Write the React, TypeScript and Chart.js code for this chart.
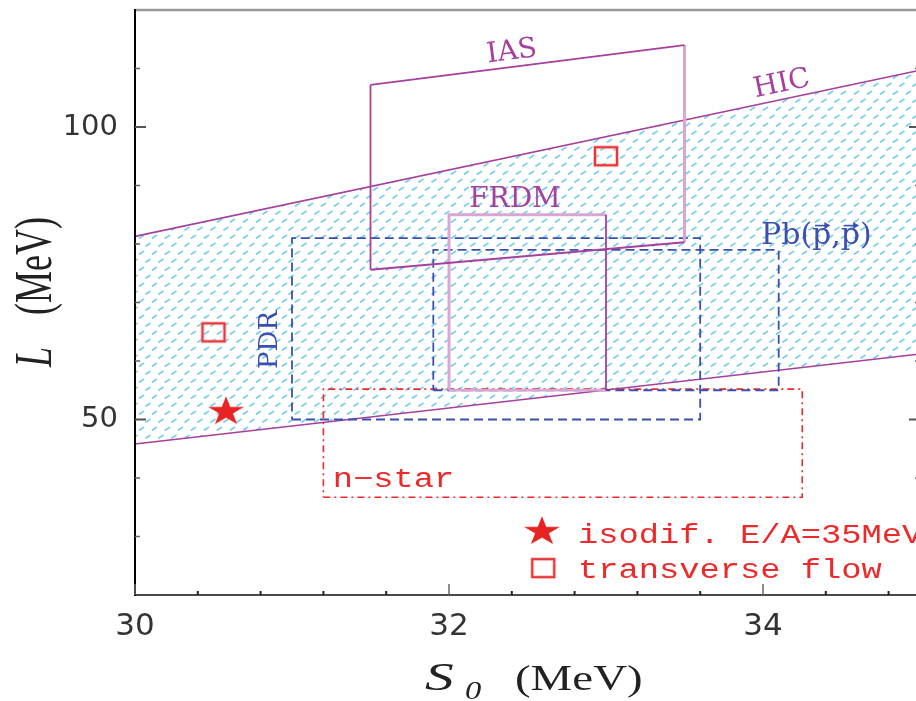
import React, { useEffect, useRef } from "react";
import { Chart, registerables } from "chart.js";

Chart.register(...registerables);

// ---------- axes ----------
const sRange = [30, 35];
const lRange = [20, 120];
const sMajorTicks = [30, 32, 34];
const sMinorTicks = [30.4, 30.8, 31.2, 31.6, 32.4, 32.8, 33.2, 33.6, 34.4, 34.8];
const lMajorTicks = [50, 100];
const lMinorTicks = [30, 40, 60, 70, 80, 90, 110];

// ---------- HIC band ----------
const hicS = [30, 35];
const hicUpperL = [81.3, 109.7];
const hicLowerL = [45.8, 61.2];

// ---------- IAS quadrilateral: top-left, top-right, bottom-right, bottom-left ----------
const iasS = [31.5, 33.5, 33.5, 31.5];
const iasL = [107.2, 114.0, 80.3, 75.6];

// ---------- rectangles [min, max] ----------
const frdmS = [32.0, 33.0];
const frdmL = [55, 85];
const pdrS = [31.0, 33.6];
const pdrL = [50, 81];
const pbS = [31.9, 34.1];
const pbL = [55, 79];
const nstarS = [31.2, 34.25];
const nstarL = [36.7, 55.2];

// ---------- points ----------
const isodifS = [30.58];
const isodifL = [51.6];
const flowS = [30.5, 33.0];
const flowL = [64.9, 95.0];

// ---------- texts ----------
const legendTexts = ["isodif. E/A=35MeV", "transverse flow"];

const PURPLE = "#a63f9e";
const PINK = "#d9a6d4";
const BLUE = "#3a4fb0";
const RED = "#ec2a2a";

const regionLabels = [
  { text: "IAS", s: 32.4, l: 112.8, angle: -7.2, color: PURPLE, size: 28, arrows: false },
  { text: "HIC", s: 34.12, l: 107.3, angle: -12, color: PURPLE, size: 28, arrows: false },
  { text: "FRDM", s: 32.42, l: 87.6, angle: 0, color: PURPLE, size: 28, arrows: false },
  { text: "Pb(p,p)", s: 34.34, l: 81.3, angle: 0, color: BLUE, size: 30, arrows: true },
  { text: "PDR", s: 30.86, l: 63.6, angle: -90, color: BLUE, size: 26, arrows: false },
];

const nstarLabel = { text: "n\u2212star", s: 31.26, l: 38.46 };
const legendPos = [
  { ms: 32.592, ml: 31.1, ts: 32.822, tl: 28.9 },
  { ms: 32.6, ml: 24.6, ts: 32.822, tl: 22.9 },
];

const pts = (xs: number[], ys: number[]) => xs.map((x, i) => ({ x, y: ys[i] }));
const rectPts = (xs: number[], ys: number[]) => [
  { x: xs[0], y: ys[0] },
  { x: xs[1], y: ys[0] },
  { x: xs[1], y: ys[1] },
  { x: xs[0], y: ys[1] },
  { x: xs[0], y: ys[0] },
];

function makePattern(): CanvasPattern | string {
  const t = document.createElement("canvas");
  t.width = 13;
  t.height = 16;
  const g = t.getContext("2d")!;
  g.strokeStyle = "rgba(80,195,228,0.8)";
  g.lineWidth = 1.7;
  g.lineCap = "round";
  const dash = (x0: number, y0: number) => {
    g.beginPath();
    g.moveTo(x0, y0);
    g.lineTo(x0 + 4, y0 - 2.6);
    g.stroke();
  };
  dash(3, 6);
  dash(9.5, 14);
  dash(-3.5, 14);
  const p = g.createPattern(t, "repeat");
  return p || "rgba(70,192,226,0.3)";
}

function makeStar(): HTMLCanvasElement {
  const c = document.createElement("canvas");
  c.width = 40;
  c.height = 32;
  const g = c.getContext("2d")!;
  const R = 15.5;
  const r = R * 0.382;
  g.translate(20, 16 + 0.0955 * R);
  g.scale(1.22, 1);
  g.beginPath();
  for (let i = 0; i < 10; i++) {
    const rad = i % 2 === 0 ? R : r;
    const a = -Math.PI / 2 + (i * Math.PI) / 5;
    const x = rad * Math.cos(a);
    const y = rad * Math.sin(a);
    if (i === 0) g.moveTo(x, y);
    else g.lineTo(x, y);
  }
  g.closePath();
  g.fillStyle = "#e82323";
  g.fill();
  return c;
}

function makeSquare(): HTMLCanvasElement {
  const c = document.createElement("canvas");
  c.width = 28;
  c.height = 24;
  const g = c.getContext("2d")!;
  g.strokeStyle = "rgba(240,140,140,0.6)";
  g.lineWidth = 3.6;
  g.strokeRect(3, 3, 22, 18);
  g.strokeStyle = "#e8363a";
  g.lineWidth = 2;
  g.strokeRect(3, 3, 22, 18);
  return c;
}

function drawText(
  ctx: CanvasRenderingContext2D,
  text: string,
  x: number,
  y: number,
  font: string,
  color: string,
  align: CanvasTextAlign,
  baseline: CanvasTextBaseline,
  angleDeg = 0,
  sx = 1,
  sy = 1
) {
  ctx.save();
  ctx.translate(x, y);
  ctx.rotate((angleDeg * Math.PI) / 180);
  ctx.scale(sx, sy);
  ctx.font = font;
  ctx.fillStyle = color;
  ctx.textAlign = align;
  ctx.textBaseline = baseline;
  ctx.fillText(text, 0, 0);
  ctx.restore();
}

export default function App() {
  const ref = useRef<HTMLCanvasElement | null>(null);

  useEffect(() => {
    document.body.style.margin = "0";
    document.body.style.overflow = "hidden";
    const canvas = ref.current;
    if (!canvas) return;

    const pattern = makePattern();
    const star = makeStar();
    const square = makeSquare();

    const seg = (data: any[], color: string, width: number, dash: number[] = [], order = 5) => ({
      data,
      borderColor: color,
      borderWidth: width,
      borderDash: dash,
      pointRadius: 0,
      pointHoverRadius: 0,
      fill: false,
      tension: 0,
      order,
      borderCapStyle: "butt",
      borderJoinStyle: "miter",
    });

    const datasets: any[] = [
      {
        ...seg(pts(hicS, hicUpperL), PURPLE, 1.6, [], 20),
        fill: "+1",
        backgroundColor: pattern,
      },
      seg(pts(hicS, hicLowerL), PURPLE, 1.6, [], 19),
      seg(rectPts(pdrS, pdrL), BLUE, 1.8, [9, 5], 8),
      seg(rectPts(pbS, pbL), BLUE, 1.8, [9, 5], 8),
      seg(rectPts(nstarS, nstarL), RED, 1.6, [7, 4, 2, 4], 8),
      seg(pts([iasS[2], iasS[1]], [iasL[2], iasL[1]]), PINK, 3, [], 7),
      seg(pts([iasS[3], iasS[0]], [iasL[3], iasL[0]]), PURPLE, 1.8, [], 6),
      seg(pts([iasS[0], iasS[1]], [iasL[0], iasL[1]]), PURPLE, 1.8, [], 6),
      seg(pts([iasS[3], iasS[2]], [iasL[3], iasL[2]]), PURPLE, 1.8, [], 6),
      seg(pts([frdmS[0], frdmS[0], frdmS[1]], [frdmL[0], frdmL[1], frdmL[1]]), PINK, 3, [], 7),
      seg(pts([frdmS[0], frdmS[1]], [frdmL[0], frdmL[0]]), PINK, 2.4, [], 7),
      seg(pts([frdmS[1], frdmS[1]], [frdmL[0], frdmL[1]]), PURPLE, 1.8, [], 6),
      {
        data: pts(isodifS, isodifL),
        showLine: false,
        pointStyle: star,
        pointRadius: 1,
        pointHoverRadius: 1,
        pointBorderWidth: 0,
        borderWidth: 0,
        order: 0,
      },
      {
        data: pts(flowS, flowL),
        showLine: false,
        pointStyle: square,
        pointRadius: 1,
        pointHoverRadius: 1,
        pointBorderWidth: 0,
        borderWidth: 0,
        order: 0,
      },
    ];

    const decor = {
      id: "decor",
      afterDatasetsDraw(chart: any) {
        const { ctx, chartArea: a, scales } = chart;
        const xs = scales.x;
        const ys = scales.y;
        ctx.save();
        ctx.lineCap = "butt";
        ctx.strokeStyle = "#9a9a9a";
        ctx.lineWidth = 2.5;
        ctx.beginPath();
        ctx.moveTo(a.left, a.top);
        ctx.lineTo(a.right, a.top);
        ctx.stroke();
        ctx.strokeStyle = "#4a4a4a";
        ctx.lineWidth = 2;
        ctx.beginPath();
        ctx.moveTo(a.left, a.bottom);
        ctx.lineTo(a.right, a.bottom);
        ctx.stroke();
        ctx.strokeStyle = "#000";
        ctx.beginPath();
        ctx.moveTo(a.left, a.top - 1);
        ctx.lineTo(a.left, a.bottom + 1);
        ctx.stroke();
        ctx.beginPath();
        ctx.moveTo(a.right, a.top);
        ctx.lineTo(a.right, a.bottom);
        ctx.stroke();
        const tickY = (v: number, len: number, color: string, w: number) => {
          const p = ys.getPixelForValue(v);
          ctx.strokeStyle = color;
          ctx.lineWidth = w;
          ctx.beginPath();
          ctx.moveTo(a.left, p);
          ctx.lineTo(a.left + len, p);
          ctx.moveTo(a.right, p);
          ctx.lineTo(a.right - len, p);
          ctx.stroke();
        };
        const tickX = (v: number, len: number, color: string, w: number) => {
          const p = xs.getPixelForValue(v);
          ctx.strokeStyle = color;
          ctx.lineWidth = w;
          ctx.beginPath();
          ctx.moveTo(p, a.bottom);
          ctx.lineTo(p, a.bottom - len);
          ctx.stroke();
        };
        lMajorTicks.forEach((v) => tickY(v, 11, "#555", 2));
        lMinorTicks.forEach((v) => tickY(v, 5, "#666", 1.5));
        sMajorTicks.forEach((v) => tickX(v, 11, "#666", 1.5));
        sMinorTicks.forEach((v) => tickX(v, 4, "#222", 2));

        regionLabels.forEach((lb) => {
          const px = xs.getPixelForValue(lb.s);
          const py = ys.getPixelForValue(lb.l);
          const font = `${lb.size}px 'DejaVu Serif'`;
          drawText(ctx, lb.text, px, py, font, lb.color, "center", "middle", lb.angle);
          if (lb.arrows) {
            ctx.save();
            ctx.font = font;
            const total = ctx.measureText(lb.text).width;
            const left = px - total / 2;
            const pw = ctx.measureText("p").width;
            const starts = [ctx.measureText("Pb(").width, ctx.measureText("Pb(p,").width];
            ctx.strokeStyle = lb.color;
            ctx.fillStyle = lb.color;
            ctx.lineWidth = 1.6;
            const ay = py - lb.size * 0.36;
            starts.forEach((st) => {
              const x0 = left + st + pw * 0.15;
              const x1 = left + st + pw * 0.9;
              ctx.beginPath();
              ctx.moveTo(x0, ay);
              ctx.lineTo(x1 - 2, ay);
              ctx.stroke();
              ctx.beginPath();
              ctx.moveTo(x1 + 1, ay);
              ctx.lineTo(x1 - 5, ay - 3.5);
              ctx.lineTo(x1 - 5, ay + 3.5);
              ctx.closePath();
              ctx.fill();
            });
            ctx.restore();
          }
        });

        drawText(ctx, nstarLabel.text, xs.getPixelForValue(nstarLabel.s), ys.getPixelForValue(nstarLabel.l),
          "27px 'Liberation Mono'", RED, "left", "alphabetic", 0, 1.25, 1);

        const markers = [star, square];
        legendPos.forEach((p, i) => {
          const m = markers[i];
          const mx = xs.getPixelForValue(p.ms);
          const my = ys.getPixelForValue(p.ml);
          ctx.drawImage(m, mx - m.width / 2, my - m.height / 2);
          drawText(ctx, legendTexts[i], xs.getPixelForValue(p.ts), ys.getPixelForValue(p.tl),
            "27px 'Liberation Mono'", RED, "left", "alphabetic", 0, 1.25, 1);
        });

        drawText(ctx, "S", 425, 690, "italic 41px 'Liberation Serif'", "#222", "left", "alphabetic", 0, 1.4, 1);
        drawText(ctx, "0", 465, 699, "italic 26px 'Liberation Serif'", "#222", "left", "alphabetic", 0, 1.25, 1);
        drawText(ctx, "(MeV)", 515, 690, "35px 'Liberation Serif'", "#222", "left", "alphabetic", 0, 1.34, 1);
        drawText(ctx, "L", 51, 357, "italic 36px 'Liberation Serif'", "#222", "center", "alphabetic", -90, 1, 1.45);
        drawText(ctx, "(MeV)", 51, 266, "36px 'Liberation Serif'", "#222", "center", "alphabetic", -90, 1, 1.45);
        ctx.restore();
      },
    };

    const chart = new Chart(canvas, {
      type: "line",
      data: { datasets },
      options: {
        animation: false,
        responsive: false,
        devicePixelRatio: 1,
        events: [],
        layout: { padding: { top: 10, right: 4, left: 0, bottom: 0 } },
        plugins: {
          legend: { display: false },
          tooltip: { enabled: false },
          filler: { propagate: false },
        },
        scales: {
          x: {
            type: "linear",
            min: sRange[0],
            max: sRange[1],
            afterBuildTicks: (s: any) => {
              s.ticks = sMajorTicks.map((v) => ({ value: v }));
            },
            afterFit: (s: any) => {
              s.height = 106;
              s.paddingLeft = 0;
              s.paddingRight = 0;
              s.paddingTop = 0;
              s.paddingBottom = 0;
            },
            ticks: { font: { family: "DejaVu Sans", size: 31 }, color: "#333", padding: 13, maxRotation: 0, autoSkip: false },
            grid: { display: false, drawTicks: false },
            border: { display: false },
          },
          y: {
            type: "linear",
            min: lRange[0],
            max: lRange[1],
            afterBuildTicks: (s: any) => {
              s.ticks = lMajorTicks.map((v) => ({ value: v }));
            },
            afterFit: (s: any) => {
              s.width = 135;
              s.paddingLeft = 0;
              s.paddingRight = 0;
              s.paddingTop = 0;
              s.paddingBottom = 0;
            },
            ticks: { font: { family: "DejaVu Sans", size: 29 }, color: "#333", padding: 17, autoSkip: false },
            grid: { display: false, drawTicks: false },
            border: { display: false },
          },
        },
      },
      plugins: [decor],
    } as any);

    return () => chart.destroy();
  }, []);

  return (
    <div style={{ width: 916, height: 701, overflow: "hidden", position: "relative", background: "#fff" }}>
      <canvas ref={ref} width={924} height={701} style={{ display: "block", width: 924, height: 701 }} />
    </div>
  );
}
